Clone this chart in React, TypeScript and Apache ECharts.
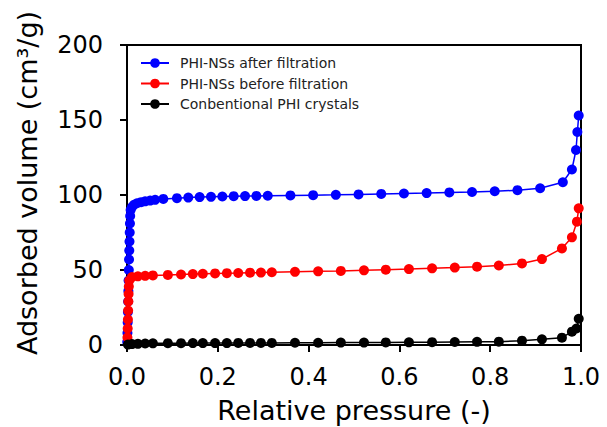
import React, { useEffect, useRef } from "react";
import * as echarts from "echarts";

const FONT = "DejaVu Sans";

const seriesNames = [
  "PHI-NSs after filtration",
  "PHI-NSs before filtration",
  "Conbentional PHI crystals",
];

const blueX = [
  0.0005, 0.001, 0.0015, 0.002, 0.0025, 0.003, 0.0035, 0.004, 0.0045, 0.005, 0.0055, 0.006, 0.0065, 0.007, 0.008,
  0.011, 0.0154, 0.022, 0.031, 0.04, 0.051, 0.062, 0.08, 0.11, 0.135, 0.16, 0.185, 0.21, 0.235, 0.26, 0.285, 0.31,
  0.36, 0.41, 0.46, 0.51, 0.56, 0.61, 0.66, 0.71, 0.76, 0.81, 0.86, 0.91, 0.96, 0.98, 0.989, 0.992, 0.995,
];
const blueY = [
  2, 8, 15, 22, 29, 36, 43, 50, 57, 63, 69, 75, 81, 86, 90,
  92, 93.5, 94.5, 95.2, 95.8, 96.3, 96.8, 97.4, 97.9, 98.3, 98.6, 98.8, 99.0, 99.2, 99.3, 99.4, 99.5,
  99.7, 99.9, 100.1, 100.4, 100.7, 101.0, 101.3, 101.7, 102.0, 102.5, 103.2, 104.5, 108.5, 117, 130, 142, 153,
];

const redX = [
  0.001, 0.0015, 0.002, 0.0025, 0.003, 0.0035, 0.004, 0.005,
  0.011, 0.024, 0.04, 0.057, 0.09, 0.119, 0.145, 0.167, 0.194, 0.22, 0.245, 0.271, 0.295, 0.319,
  0.37, 0.421, 0.471, 0.522, 0.57, 0.621, 0.672, 0.722, 0.771, 0.819, 0.87, 0.914, 0.958, 0.98, 0.991, 0.995,
];
const redY = [
  5, 11, 17, 23, 29, 34, 39, 43,
  45.3, 45.8, 46.1, 46.4, 46.7, 47.0, 47.3, 47.5, 47.7, 47.9, 48.0, 48.2, 48.3, 48.5,
  48.8, 49.1, 49.4, 49.8, 50.2, 50.6, 51.1, 51.6, 52.2, 53.0, 54.4, 57.3, 64.4, 71.8, 82.2, 91.1,
];

const blackX = [
  0.002, 0.011, 0.024, 0.04, 0.057, 0.09, 0.119, 0.145, 0.167, 0.194, 0.22, 0.245, 0.271, 0.295, 0.319,
  0.37, 0.421, 0.471, 0.522, 0.57, 0.621, 0.672, 0.722, 0.771, 0.819, 0.87, 0.914, 0.958, 0.98, 0.99, 0.995,
];
const blackY = [
  0.3, 0.6, 0.8, 1.0, 1.1, 1.2, 1.2, 1.3, 1.3, 1.3, 1.3, 1.4, 1.4, 1.4, 1.4,
  1.5, 1.5, 1.6, 1.6, 1.7, 1.8, 1.9, 2.0, 2.1, 2.2, 2.9, 3.8, 4.9, 8.9, 11, 17.5,
];

const xTicks = { min: 0, max: 1, interval: 0.2 };
const yTicks = { min: 0, max: 200, interval: 50 };

const colors = ["#0000ff", "#ff0000", "#000000"];

function pairs(xs: number[], ys: number[]) {
  return xs.map((x, i) => [x, ys[i]]);
}

export default function App() {
  const ref = useRef<HTMLDivElement>(null);
  useEffect(() => {
    if (!ref.current) return;
    const chart = echarts.init(ref.current, null, { renderer: "svg" });
    const datasets = [pairs(blueX, blueY), pairs(redX, redY), pairs(blackX, blackY)];
    chart.setOption({
      animation: false,
      grid: {
        left: 127,
        top: 45,
        right: 26,
        bottom: 82,
        show: true,
        borderColor: "#000",
        borderWidth: 2,
        backgroundColor: "transparent",
        outerBoundsMode: "none",
      },
      legend: {
        orient: "vertical",
        left: 140,
        top: 56,
        padding: 0,
        itemWidth: 28,
        itemHeight: 12,
        itemGap: 6.5,
        data: seriesNames,
        textStyle: { fontFamily: FONT, fontSize: 14, color: "#222", padding: [0, 0, 0, 6] },
      },
      xAxis: {
        type: "value",
        min: xTicks.min,
        max: xTicks.max,
        interval: xTicks.interval,
        name: "Relative pressure (-)",
        nameLocation: "middle",
        nameGap: 52,
        nameTextStyle: { fontFamily: FONT, fontSize: 27, color: "#000" },
        axisLine: { show: true, lineStyle: { color: "#000", width: 2 } },
        axisTick: { show: true, inside: false, length: 7, lineStyle: { color: "#000", width: 2 } },
        axisLabel: {
          fontFamily: FONT,
          fontSize: 24,
          color: "#000",
          margin: 20,
          formatter: (v: number) => v.toFixed(1),
        },
        splitLine: { show: false },
      },
      yAxis: {
        type: "value",
        min: yTicks.min,
        max: yTicks.max,
        interval: yTicks.interval,
        axisLine: { show: true, lineStyle: { color: "#000", width: 2 } },
        axisTick: { show: true, inside: false, length: 7, lineStyle: { color: "#000", width: 2 } },
        axisLabel: { fontFamily: FONT, fontSize: 24, color: "#000", margin: 24 },
        splitLine: { show: false },
      },
      graphic: [
        {
          type: "text",
          x: 27,
          y: 183,
          rotation: Math.PI / 2,
          style: {
            text: "Adsorbed volume (cm³/g)",
            fontFamily: FONT,
            fontSize: 27,
            fill: "#000",
            align: "center",
            verticalAlign: "middle",
          },
        },
      ],
      series: datasets.map((d, i) => ({
        name: seriesNames[i],
        type: "line",
        data: d,
        clip: false,
        symbol: "circle",
        symbolSize: 10,
        showSymbol: true,
        color: colors[i],
        lineStyle: { color: colors[i], width: 1.5 },
        itemStyle: { color: colors[i] },
      })),
    });
    return () => chart.dispose();
  }, []);
  return (
    <div
      ref={ref}
      style={{ position: "fixed", left: 0, top: 0, width: 607, height: 427, background: "#fff" }}
    />
  );
}
